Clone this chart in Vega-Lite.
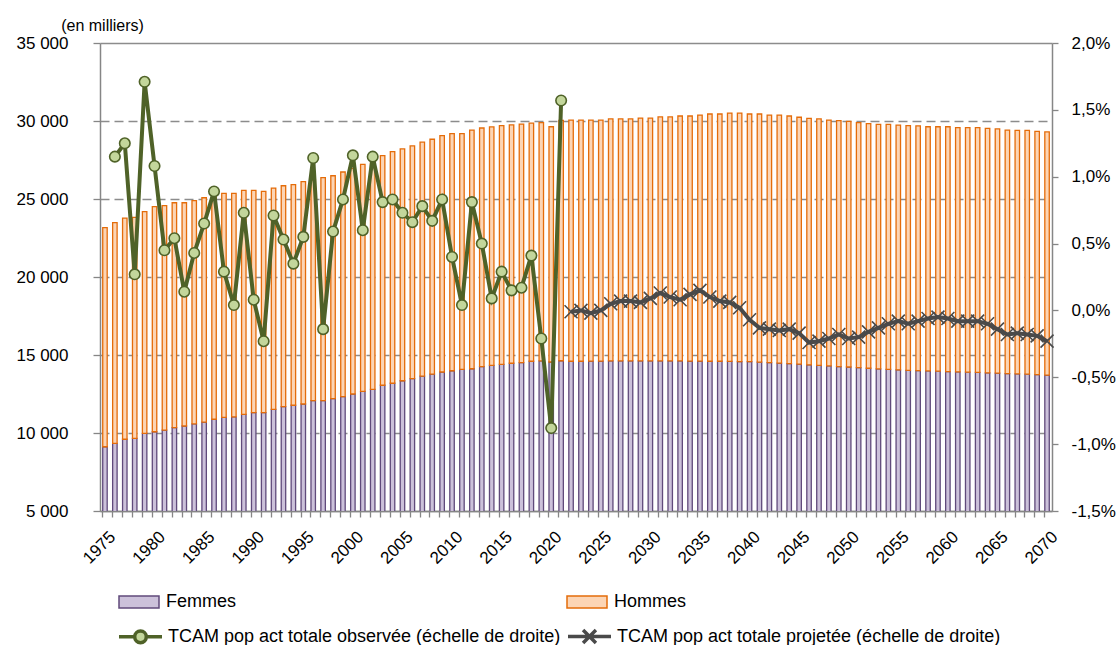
{
  "$schema": "https://vega.github.io/schema/vega-lite/v6.json",
  "width": 952,
  "height": 468,
  "autosize": {"type": "none"},
  "padding": {"left": 100, "top": 43, "right": 66, "bottom": 134},
  "background": "white",
  "config": {
    "view": {"stroke": null},
    "font": "Liberation Sans",
    "axis": {"labelColor": "#000000", "labelFontSize": 17, "domainColor": "#868686", "domainWidth": 1.5, "tickColor": "#868686", "tickWidth": 1.3}
  },
  "datasets": {
    "pop": [
      {"annee": 1975, "Femmes": 9120, "Hommes": 14040},
      {"annee": 1976, "Femmes": 9340, "Hommes": 14140},
      {"annee": 1977, "Femmes": 9600, "Hommes": 14180},
      {"annee": 1978, "Femmes": 9660, "Hommes": 14160},
      {"annee": 1979, "Femmes": 9980, "Hommes": 14210},
      {"annee": 1980, "Femmes": 10080, "Hommes": 14430},
      {"annee": 1981, "Femmes": 10190, "Hommes": 14380},
      {"annee": 1982, "Femmes": 10340, "Hommes": 14420},
      {"annee": 1983, "Femmes": 10450, "Hommes": 14310},
      {"annee": 1984, "Femmes": 10580, "Hommes": 14310},
      {"annee": 1985, "Femmes": 10700, "Hommes": 14380},
      {"annee": 1986, "Femmes": 10880, "Hommes": 14420},
      {"annee": 1987, "Femmes": 11000, "Hommes": 14360},
      {"annee": 1988, "Femmes": 11040, "Hommes": 14320},
      {"annee": 1989, "Femmes": 11200, "Hommes": 14350},
      {"annee": 1990, "Femmes": 11300, "Hommes": 14250},
      {"annee": 1991, "Femmes": 11300, "Hommes": 14190},
      {"annee": 1992, "Femmes": 11520, "Hommes": 14180},
      {"annee": 1993, "Femmes": 11690, "Hommes": 14160},
      {"annee": 1994, "Femmes": 11780, "Hommes": 14140},
      {"annee": 1995, "Femmes": 11860, "Hommes": 14250},
      {"annee": 1996, "Femmes": 12070, "Hommes": 14150},
      {"annee": 1997, "Femmes": 12070, "Hommes": 14300},
      {"annee": 1998, "Femmes": 12200, "Hommes": 14290},
      {"annee": 1999, "Femmes": 12330, "Hommes": 14400},
      {"annee": 2000, "Femmes": 12500, "Hommes": 14460},
      {"annee": 2001, "Femmes": 12670, "Hommes": 14550},
      {"annee": 2002, "Femmes": 12800, "Hommes": 14700},
      {"annee": 2003, "Femmes": 13060, "Hommes": 14720},
      {"annee": 2004, "Femmes": 13190, "Hommes": 14850},
      {"annee": 2005, "Femmes": 13350, "Hommes": 14860},
      {"annee": 2006, "Femmes": 13480, "Hommes": 14920},
      {"annee": 2007, "Femmes": 13650, "Hommes": 14990},
      {"annee": 2008, "Femmes": 13780, "Hommes": 15050},
      {"annee": 2009, "Femmes": 13910, "Hommes": 15150},
      {"annee": 2010, "Femmes": 13990, "Hommes": 15200},
      {"annee": 2011, "Femmes": 14080, "Hommes": 15110},
      {"annee": 2012, "Femmes": 14120, "Hommes": 15300},
      {"annee": 2013, "Femmes": 14250, "Hommes": 15300},
      {"annee": 2014, "Femmes": 14340, "Hommes": 15280},
      {"annee": 2015, "Femmes": 14400, "Hommes": 15300},
      {"annee": 2016, "Femmes": 14470, "Hommes": 15280},
      {"annee": 2017, "Femmes": 14510, "Hommes": 15290},
      {"annee": 2018, "Femmes": 14600, "Hommes": 15260},
      {"annee": 2019, "Femmes": 14620, "Hommes": 15270},
      {"annee": 2020, "Femmes": 14550, "Hommes": 15080},
      {"annee": 2021, "Femmes": 14630, "Hommes": 15410},
      {"annee": 2022, "Femmes": 14600, "Hommes": 15460},
      {"annee": 2023, "Femmes": 14600, "Hommes": 15460},
      {"annee": 2024, "Femmes": 14610, "Hommes": 15450},
      {"annee": 2025, "Femmes": 14610, "Hommes": 15450},
      {"annee": 2026, "Femmes": 14620, "Hommes": 15510},
      {"annee": 2027, "Femmes": 14620, "Hommes": 15510},
      {"annee": 2028, "Femmes": 14620, "Hommes": 15510},
      {"annee": 2029, "Femmes": 14620, "Hommes": 15570},
      {"annee": 2030, "Femmes": 14620, "Hommes": 15570},
      {"annee": 2031, "Femmes": 14620, "Hommes": 15640},
      {"annee": 2032, "Femmes": 14620, "Hommes": 15640},
      {"annee": 2033, "Femmes": 14620, "Hommes": 15700},
      {"annee": 2034, "Femmes": 14610, "Hommes": 15710},
      {"annee": 2035, "Femmes": 14610, "Hommes": 15770},
      {"annee": 2036, "Femmes": 14600, "Hommes": 15850},
      {"annee": 2037, "Femmes": 14600, "Hommes": 15850},
      {"annee": 2038, "Femmes": 14590, "Hommes": 15920},
      {"annee": 2039, "Femmes": 14580, "Hommes": 15930},
      {"annee": 2040, "Femmes": 14570, "Hommes": 15880},
      {"annee": 2041, "Femmes": 14540, "Hommes": 15910},
      {"annee": 2042, "Femmes": 14510, "Hommes": 15870},
      {"annee": 2043, "Femmes": 14480, "Hommes": 15900},
      {"annee": 2044, "Femmes": 14450, "Hommes": 15870},
      {"annee": 2045, "Femmes": 14420, "Hommes": 15820},
      {"annee": 2046, "Femmes": 14370, "Hommes": 15800},
      {"annee": 2047, "Femmes": 14330, "Hommes": 15800},
      {"annee": 2048, "Femmes": 14300, "Hommes": 15760},
      {"annee": 2049, "Femmes": 14260, "Hommes": 15760},
      {"annee": 2050, "Femmes": 14230, "Hommes": 15750},
      {"annee": 2051, "Femmes": 14190, "Hommes": 15700},
      {"annee": 2052, "Femmes": 14150, "Hommes": 15680},
      {"annee": 2053, "Femmes": 14110, "Hommes": 15680},
      {"annee": 2054, "Femmes": 14080, "Hommes": 15710},
      {"annee": 2055, "Femmes": 14050, "Hommes": 15690},
      {"annee": 2056, "Femmes": 14020, "Hommes": 15680},
      {"annee": 2057, "Femmes": 14000, "Hommes": 15690},
      {"annee": 2058, "Femmes": 13980, "Hommes": 15650},
      {"annee": 2059, "Femmes": 13960, "Hommes": 15670},
      {"annee": 2060, "Femmes": 13940, "Hommes": 15690},
      {"annee": 2061, "Femmes": 13920, "Hommes": 15650},
      {"annee": 2062, "Femmes": 13900, "Hommes": 15670},
      {"annee": 2063, "Femmes": 13880, "Hommes": 15690},
      {"annee": 2064, "Femmes": 13860, "Hommes": 15670},
      {"annee": 2065, "Femmes": 13840, "Hommes": 15650},
      {"annee": 2066, "Femmes": 13810, "Hommes": 15610},
      {"annee": 2067, "Femmes": 13790, "Hommes": 15610},
      {"annee": 2068, "Femmes": 13770, "Hommes": 15630},
      {"annee": 2069, "Femmes": 13740, "Hommes": 15600},
      {"annee": 2070, "Femmes": 13710, "Hommes": 15590}
    ],
    "tcam": [
      {"annee": 1976, "serie": "TCAM pop act totale observée (échelle de droite)", "tcam": 1.15},
      {"annee": 1977, "serie": "TCAM pop act totale observée (échelle de droite)", "tcam": 1.25},
      {"annee": 1978, "serie": "TCAM pop act totale observée (échelle de droite)", "tcam": 0.27},
      {"annee": 1979, "serie": "TCAM pop act totale observée (échelle de droite)", "tcam": 1.71},
      {"annee": 1980, "serie": "TCAM pop act totale observée (échelle de droite)", "tcam": 1.08},
      {"annee": 1981, "serie": "TCAM pop act totale observée (échelle de droite)", "tcam": 0.45},
      {"annee": 1982, "serie": "TCAM pop act totale observée (échelle de droite)", "tcam": 0.54},
      {"annee": 1983, "serie": "TCAM pop act totale observée (échelle de droite)", "tcam": 0.14},
      {"annee": 1984, "serie": "TCAM pop act totale observée (échelle de droite)", "tcam": 0.43},
      {"annee": 1985, "serie": "TCAM pop act totale observée (échelle de droite)", "tcam": 0.65},
      {"annee": 1986, "serie": "TCAM pop act totale observée (échelle de droite)", "tcam": 0.89},
      {"annee": 1987, "serie": "TCAM pop act totale observée (échelle de droite)", "tcam": 0.29},
      {"annee": 1988, "serie": "TCAM pop act totale observée (échelle de droite)", "tcam": 0.04},
      {"annee": 1989, "serie": "TCAM pop act totale observée (échelle de droite)", "tcam": 0.73},
      {"annee": 1990, "serie": "TCAM pop act totale observée (échelle de droite)", "tcam": 0.08},
      {"annee": 1991, "serie": "TCAM pop act totale observée (échelle de droite)", "tcam": -0.23},
      {"annee": 1992, "serie": "TCAM pop act totale observée (échelle de droite)", "tcam": 0.71},
      {"annee": 1993, "serie": "TCAM pop act totale observée (échelle de droite)", "tcam": 0.53},
      {"annee": 1994, "serie": "TCAM pop act totale observée (échelle de droite)", "tcam": 0.35},
      {"annee": 1995, "serie": "TCAM pop act totale observée (échelle de droite)", "tcam": 0.55},
      {"annee": 1996, "serie": "TCAM pop act totale observée (échelle de droite)", "tcam": 1.14},
      {"annee": 1997, "serie": "TCAM pop act totale observée (échelle de droite)", "tcam": -0.14},
      {"annee": 1998, "serie": "TCAM pop act totale observée (échelle de droite)", "tcam": 0.59},
      {"annee": 1999, "serie": "TCAM pop act totale observée (échelle de droite)", "tcam": 0.83},
      {"annee": 2000, "serie": "TCAM pop act totale observée (échelle de droite)", "tcam": 1.16},
      {"annee": 2001, "serie": "TCAM pop act totale observée (échelle de droite)", "tcam": 0.60},
      {"annee": 2002, "serie": "TCAM pop act totale observée (échelle de droite)", "tcam": 1.15},
      {"annee": 2003, "serie": "TCAM pop act totale observée (échelle de droite)", "tcam": 0.81},
      {"annee": 2004, "serie": "TCAM pop act totale observée (échelle de droite)", "tcam": 0.83},
      {"annee": 2005, "serie": "TCAM pop act totale observée (échelle de droite)", "tcam": 0.73},
      {"annee": 2006, "serie": "TCAM pop act totale observée (échelle de droite)", "tcam": 0.66},
      {"annee": 2007, "serie": "TCAM pop act totale observée (échelle de droite)", "tcam": 0.78},
      {"annee": 2008, "serie": "TCAM pop act totale observée (échelle de droite)", "tcam": 0.67},
      {"annee": 2009, "serie": "TCAM pop act totale observée (échelle de droite)", "tcam": 0.83},
      {"annee": 2010, "serie": "TCAM pop act totale observée (échelle de droite)", "tcam": 0.40},
      {"annee": 2011, "serie": "TCAM pop act totale observée (échelle de droite)", "tcam": 0.04},
      {"annee": 2012, "serie": "TCAM pop act totale observée (échelle de droite)", "tcam": 0.81},
      {"annee": 2013, "serie": "TCAM pop act totale observée (échelle de droite)", "tcam": 0.50},
      {"annee": 2014, "serie": "TCAM pop act totale observée (échelle de droite)", "tcam": 0.09},
      {"annee": 2015, "serie": "TCAM pop act totale observée (échelle de droite)", "tcam": 0.29},
      {"annee": 2016, "serie": "TCAM pop act totale observée (échelle de droite)", "tcam": 0.15},
      {"annee": 2017, "serie": "TCAM pop act totale observée (échelle de droite)", "tcam": 0.17},
      {"annee": 2018, "serie": "TCAM pop act totale observée (échelle de droite)", "tcam": 0.41},
      {"annee": 2019, "serie": "TCAM pop act totale observée (échelle de droite)", "tcam": -0.21},
      {"annee": 2020, "serie": "TCAM pop act totale observée (échelle de droite)", "tcam": -0.88},
      {"annee": 2021, "serie": "TCAM pop act totale observée (échelle de droite)", "tcam": 1.57},
      {"annee": 2022, "serie": "TCAM pop act totale projetée (échelle de droite)", "tcam": -0.01},
      {"annee": 2023, "serie": "TCAM pop act totale projetée (échelle de droite)", "tcam": 0.0},
      {"annee": 2024, "serie": "TCAM pop act totale projetée (échelle de droite)", "tcam": -0.02},
      {"annee": 2025, "serie": "TCAM pop act totale projetée (échelle de droite)", "tcam": 0.0},
      {"annee": 2026, "serie": "TCAM pop act totale projetée (échelle de droite)", "tcam": 0.05},
      {"annee": 2027, "serie": "TCAM pop act totale projetée (échelle de droite)", "tcam": 0.07},
      {"annee": 2028, "serie": "TCAM pop act totale projetée (échelle de droite)", "tcam": 0.07},
      {"annee": 2029, "serie": "TCAM pop act totale projetée (échelle de droite)", "tcam": 0.06},
      {"annee": 2030, "serie": "TCAM pop act totale projetée (échelle de droite)", "tcam": 0.09},
      {"annee": 2031, "serie": "TCAM pop act totale projetée (échelle de droite)", "tcam": 0.13},
      {"annee": 2032, "serie": "TCAM pop act totale projetée (échelle de droite)", "tcam": 0.10},
      {"annee": 2033, "serie": "TCAM pop act totale projetée (échelle de droite)", "tcam": 0.08},
      {"annee": 2034, "serie": "TCAM pop act totale projetée (échelle de droite)", "tcam": 0.12},
      {"annee": 2035, "serie": "TCAM pop act totale projetée (échelle de droite)", "tcam": 0.15},
      {"annee": 2036, "serie": "TCAM pop act totale projetée (échelle de droite)", "tcam": 0.10},
      {"annee": 2037, "serie": "TCAM pop act totale projetée (échelle de droite)", "tcam": 0.07},
      {"annee": 2038, "serie": "TCAM pop act totale projetée (échelle de droite)", "tcam": 0.06},
      {"annee": 2039, "serie": "TCAM pop act totale projetée (échelle de droite)", "tcam": 0.02},
      {"annee": 2040, "serie": "TCAM pop act totale projetée (échelle de droite)", "tcam": -0.07},
      {"annee": 2041, "serie": "TCAM pop act totale projetée (échelle de droite)", "tcam": -0.13},
      {"annee": 2042, "serie": "TCAM pop act totale projetée (échelle de droite)", "tcam": -0.14},
      {"annee": 2043, "serie": "TCAM pop act totale projetée (échelle de droite)", "tcam": -0.15},
      {"annee": 2044, "serie": "TCAM pop act totale projetée (échelle de droite)", "tcam": -0.14},
      {"annee": 2045, "serie": "TCAM pop act totale projetée (échelle de droite)", "tcam": -0.17},
      {"annee": 2046, "serie": "TCAM pop act totale projetée (échelle de droite)", "tcam": -0.24},
      {"annee": 2047, "serie": "TCAM pop act totale projetée (échelle de droite)", "tcam": -0.23},
      {"annee": 2048, "serie": "TCAM pop act totale projetée (échelle de droite)", "tcam": -0.21},
      {"annee": 2049, "serie": "TCAM pop act totale projetée (échelle de droite)", "tcam": -0.18},
      {"annee": 2050, "serie": "TCAM pop act totale projetée (échelle de droite)", "tcam": -0.21},
      {"annee": 2051, "serie": "TCAM pop act totale projetée (échelle de droite)", "tcam": -0.20},
      {"annee": 2052, "serie": "TCAM pop act totale projetée (échelle de droite)", "tcam": -0.16},
      {"annee": 2053, "serie": "TCAM pop act totale projetée (échelle de droite)", "tcam": -0.13},
      {"annee": 2054, "serie": "TCAM pop act totale projetée (échelle de droite)", "tcam": -0.10},
      {"annee": 2055, "serie": "TCAM pop act totale projetée (échelle de droite)", "tcam": -0.08},
      {"annee": 2056, "serie": "TCAM pop act totale projetée (échelle de droite)", "tcam": -0.10},
      {"annee": 2057, "serie": "TCAM pop act totale projetée (échelle de droite)", "tcam": -0.08},
      {"annee": 2058, "serie": "TCAM pop act totale projetée (échelle de droite)", "tcam": -0.06},
      {"annee": 2059, "serie": "TCAM pop act totale projetée (échelle de droite)", "tcam": -0.05},
      {"annee": 2060, "serie": "TCAM pop act totale projetée (échelle de droite)", "tcam": -0.06},
      {"annee": 2061, "serie": "TCAM pop act totale projetée (échelle de droite)", "tcam": -0.08},
      {"annee": 2062, "serie": "TCAM pop act totale projetée (échelle de droite)", "tcam": -0.08},
      {"annee": 2063, "serie": "TCAM pop act totale projetée (échelle de droite)", "tcam": -0.08},
      {"annee": 2064, "serie": "TCAM pop act totale projetée (échelle de droite)", "tcam": -0.10},
      {"annee": 2065, "serie": "TCAM pop act totale projetée (échelle de droite)", "tcam": -0.14},
      {"annee": 2066, "serie": "TCAM pop act totale projetée (échelle de droite)", "tcam": -0.18},
      {"annee": 2067, "serie": "TCAM pop act totale projetée (échelle de droite)", "tcam": -0.17},
      {"annee": 2068, "serie": "TCAM pop act totale projetée (échelle de droite)", "tcam": -0.18},
      {"annee": 2069, "serie": "TCAM pop act totale projetée (échelle de droite)", "tcam": -0.19},
      {"annee": 2070, "serie": "TCAM pop act totale projetée (échelle de droite)", "tcam": -0.23}
    ]
  },
  "layer": [
    {
      "data": {"name": "pop"},
      "transform": [{"fold": ["Femmes", "Hommes"], "as": ["sexe", "effectif"]}],
      "mark": {"type": "bar", "clip": true, "strokeWidth": 1.3},
      "encoding": {
        "x": {
          "field": "annee", "type": "ordinal",
          "scale": {"paddingInner": 0.55, "paddingOuter": 0.275},
          "axis": {
            "title": null, "bandPosition": 0, "labelOffset": 8, "labelAngle": -45,
            "labelAlign": "right", "labelBaseline": "middle", "labelPadding": 17,
            "labelExpr": "datum.value % 5 == 0 ? datum.label : ''",
            "labelOverlap": false, "tickSize": 6, "grid": false
          }
        },
        "y": {
          "field": "effectif", "type": "quantitative", "stack": "zero",
          "scale": {"domain": [5000, 35000], "zero": false, "nice": false},
          "axis": {
            "orient": "left",
            "values": [5000, 10000, 15000, 20000, 25000, 30000, 35000],
            "labelExpr": "replace(format(datum.value, ','), ',', ' ')",
            "tickSize": 7, "labelPadding": 25,
            "grid": true, "gridColor": "#8c8c8c", "gridWidth": 1.3,
            "gridDash": {"condition": {"test": "datum.value == 35000 || datum.value == 5000", "value": []}, "value": [9, 5]},
            "title": "(en milliers)", "titleAngle": 0, "titleX": 2, "titleY": -18,
            "titleAlign": "center", "titleBaseline": "middle", "titleFontSize": 16,
            "titleFontWeight": "normal", "titleColor": "#000000"
          }
        },
        "fill": {
          "field": "sexe", "type": "nominal",
          "scale": {"domain": ["Femmes", "Hommes"], "range": ["#ccc1da", "#fcd5b5"]},
          "legend": {
            "orient": "none", "legendX": 18, "legendY": 538, "direction": "horizontal",
            "columns": 2, "columnPadding": 327, "title": null,
            "symbolType": "M-1,-0.3H1V0.3H-1Z", "symbolSize": 1600, "symbolStrokeWidth": 1.5,
            "labelFontSize": 18, "labelOffset": 6, "labelColor": "#000000"
          }
        },
        "stroke": {
          "field": "sexe", "type": "nominal",
          "scale": {"domain": ["Femmes", "Hommes"], "range": ["#604a7b", "#e46c0a"]},
          "legend": {
            "orient": "none", "legendX": 18, "legendY": 538, "direction": "horizontal",
            "columns": 2, "columnPadding": 327, "title": null,
            "symbolType": "M-1,-0.3H1V0.3H-1Z", "symbolSize": 1600, "symbolStrokeWidth": 1.5,
            "labelFontSize": 18, "labelOffset": 6, "labelColor": "#000000"
          }
        },
        "order": {"field": "sexe", "sort": "ascending"}
      }
    },
    {
      "data": {"name": "tcam"},
      "layer": [
        {
          "mark": {"type": "line", "strokeWidth": 4},
          "encoding": {
            "x": {"field": "annee", "type": "ordinal"},
            "y": {
              "field": "tcam", "type": "quantitative",
              "scale": {"domain": [-1.5, 2.0], "zero": false, "nice": false},
              "axis": {
                "orient": "right", "title": null,
                "values": [-1.5, -1.0, -0.5, 0.0, 0.5, 1.0, 1.5, 2.0],
                "labelExpr": "replace(replace(format(datum.value, '.1f'), '.', ','), '−', '-') + '%'",
                "tickSize": 6, "labelPadding": 13, "grid": false
              }
            },
            "color": {
              "field": "serie", "type": "nominal",
              "scale": {
                "domain": ["TCAM pop act totale observée (échelle de droite)", "TCAM pop act totale projetée (échelle de droite)"],
                "range": ["#4f6228", "#4a4a4a"]
              },
              "legend": {
                "orient": "none", "legendX": 17, "legendY": 570, "direction": "horizontal",
                "columns": 2, "columnPadding": 0, "title": null,
                "symbolSize": 1849, "symbolStrokeWidth": 3.5,
                "labelFontSize": 18, "labelOffset": 4, "labelColor": "#000000", "labelLimit": 500,
                "encode": {
                  "symbols": {
                    "update": {
                      "shape": {"signal": "indexof(datum.value, 'observ') >= 0 ? 'M-1,0H-0.27M0.27,0H1M-0.27,0A0.27,0.27,0,1,1,0.27,0A0.27,0.27,0,1,1,-0.27,0' : 'M-1,0H1M-0.3,-0.3L0.3,0.3M-0.3,0.3L0.3,-0.3'"},
                      "fill": {"signal": "indexof(datum.value, 'observ') >= 0 ? '#c3d69b' : 'transparent'"}
                    }
                  }
                }
              }
            }
          }
        },
        {
          "transform": [{"filter": "indexof(datum.serie, 'observ') >= 0"}],
          "mark": {"type": "point", "shape": "circle", "filled": true, "fill": "#c3d69b", "stroke": "#4f6228", "strokeWidth": 1.6, "size": 110, "opacity": 1},
          "encoding": {
            "x": {"field": "annee", "type": "ordinal"},
            "y": {"field": "tcam", "type": "quantitative", "scale": {"domain": [-1.5, 2.0], "zero": false, "nice": false}}
          }
        },
        {
          "transform": [{"filter": "indexof(datum.serie, 'projet') >= 0"}],
          "mark": {"type": "point", "shape": "M-1,-1L1,1M-1,1L1,-1", "filled": false, "stroke": "#4a4a4a", "strokeWidth": 1.6, "size": 169, "opacity": 1},
          "encoding": {
            "x": {"field": "annee", "type": "ordinal"},
            "y": {"field": "tcam", "type": "quantitative", "scale": {"domain": [-1.5, 2.0], "zero": false, "nice": false}}
          }
        }
      ]
    }
  ],
  "resolve": {"scale": {"y": "independent"}}
}
